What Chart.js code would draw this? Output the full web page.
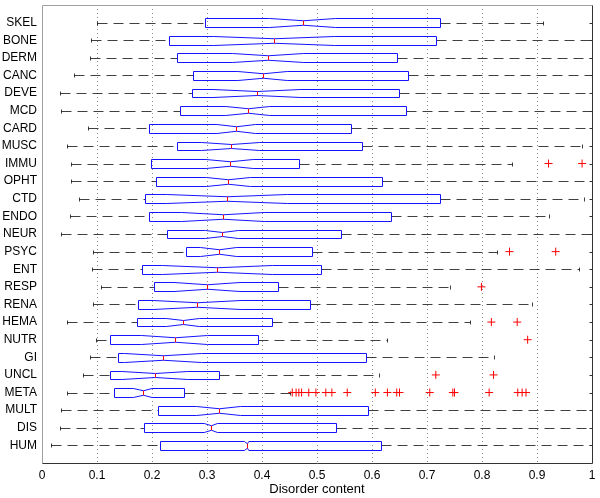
<!DOCTYPE html>
<html>
<head>
<meta charset="utf-8">
<script src="https://cdn.jsdelivr.net/npm/chart.js@4.4.0/dist/chart.umd.min.js"></script>
<style>
  body { margin: 0; background: #fff; }
  #wrap { width: 600px; height: 498px; }
</style>
</head>
<body>
<div id="wrap"><canvas id="boxChart" width="600" height="498"></canvas></div>
<script>
// categories, top to bottom
const cats = ['SKEL','BONE','DERM','CANC','DEVE','MCD','CARD','MUSC','IMMU','OPHT','CTD','ENDO','NEUR',
  'PSYC','ENT','RESP','RENA','HEMA','NUTR','GI','UNCL','META','MULT','DIS','HUM'];

// box statistics
const whiskerLo = [0.100,0.089,0.088,0.058,0.032,0.034,0.083,0.045,0.053,0.053,0.068,0.050,0.034,
  0.092,0.090,0.107,0.092,0.045,0.099,0.087,0.074,0.045,0.034,0.032,0.016];
const q1 = [0.296,0.230,0.246,0.275,0.273,0.251,0.195,0.245,0.198,0.208,0.187,0.194,0.227,
  0.261,0.182,0.204,0.174,0.172,0.123,0.139,0.123,0.130,0.211,0.185,0.214];
const medians = [0.474,0.422,0.411,0.401,0.391,0.374,0.353,0.343,0.341,0.339,0.336,0.329,0.327,
  0.321,0.319,0.300,0.282,0.256,0.241,0.220,0.205,0.183,0.321,0.307,0.372];
const q3 = [0.723,0.716,0.645,0.666,0.649,0.661,0.561,0.581,0.467,0.619,0.723,0.634,0.543,
  0.490,0.508,0.429,0.487,0.418,0.393,0.589,0.321,0.259,0.592,0.535,0.616];
const whiskerHi = [0.910,1,1,1,1,1,1,0.982,0.855,1,0.985,0.921,1,
  0.828,0.976,0.742,0.890,0.779,0.628,0.822,0.612,0.450,1,1,1];
// half width of the notch around the median
const notch = [0.06,0.11,0.065,0.045,0.08,0.04,0.035,0.053,0.043,0.04,0.11,0.075,0.03,
  0.033,0.10,0.06,0.08,0.03,0.06,0.07,0.06,0.017,0.04,0.012,0.004];

// outliers per category
const outliers = {
  IMMU: [0.921, 0.982],
  PSYC: [0.850, 0.934],
  RESP: [0.799],
  HEMA: [0.817, 0.864],
  NUTR: [0.883],
  UNCL: [0.716, 0.821],
  META: [0.455,0.462,0.467,0.472,0.485,0.498,0.516,0.527,0.555,0.606,0.628,0.645,0.650,
    0.705,0.747,0.750,0.813,0.865,0.873,0.880]
};

const xTicks = [0,0.1,0.2,0.3,0.4,0.5,0.6,0.7,0.8,0.9,1];

const outlierPoints = [];
Object.keys(outliers).forEach(c => {
  outliers[c].forEach(v => outlierPoints.push({x: v, y: cats.indexOf(c) + 1}));
});

const FONT = '"Liberation Sans", Arial, Helvetica, sans-serif';
const px = v => Math.round(v) + 0.5;

// boxes, notches, medians and whiskers drawn through the chart scales
const boxPlugin = {
  id: 'boxes',
  beforeDatasetsDraw(chart) {
    const {ctx, scales: {x, y}} = chart;
    const half = 0.25;
    ctx.save();
    ctx.lineWidth = 1;
    cats.forEach((c, i) => {
      const yc = px(y.getPixelForValue(i + 1));
      const yt = px(y.getPixelForValue(i + 1 - half));
      const yb = px(y.getPixelForValue(i + 1 + half));
      const h = yb - yt;
      const xl = px(x.getPixelForValue(whiskerLo[i]));
      const xh = px(x.getPixelForValue(whiskerHi[i]));
      const a = px(x.getPixelForValue(q1[i]));
      const b = px(x.getPixelForValue(q3[i]));
      const m = px(x.getPixelForValue(medians[i]));
      const nl = x.getPixelForValue(medians[i] - notch[i]);
      const nh = x.getPixelForValue(medians[i] + notch[i]);

      // whiskers
      ctx.strokeStyle = 'rgba(0,0,0,0.75)';
      ctx.setLineDash([10, 6]);
      ctx.beginPath();
      ctx.moveTo(xl, yc); ctx.lineTo(a, yc);
      ctx.moveTo(b, yc); ctx.lineTo(xh, yc);
      ctx.stroke();
      ctx.setLineDash([]);
      ctx.beginPath();
      ctx.moveTo(xl, yc - 2); ctx.lineTo(xl, yc + 2);
      ctx.moveTo(xh, yc - 2); ctx.lineTo(xh, yc + 2);
      ctx.stroke();

      // notched box
      ctx.strokeStyle = 'rgb(20,20,255)';
      ctx.beginPath();
      ctx.moveTo(a, yt);
      ctx.lineTo(nl, yt);
      ctx.lineTo(m, yt + h / 4);
      ctx.lineTo(nh, yt);
      ctx.lineTo(b, yt);
      ctx.lineTo(b, yb);
      ctx.lineTo(nh, yb);
      ctx.lineTo(m, yb - h / 4);
      ctx.lineTo(nl, yb);
      ctx.lineTo(a, yb);
      ctx.closePath();
      ctx.stroke();

      // median
      ctx.strokeStyle = 'rgb(255,0,0)';
      ctx.beginPath();
      ctx.moveTo(m, yt + h / 4); ctx.lineTo(m, yb - h / 4);
      ctx.stroke();
    });
    ctx.restore();
  },
  afterDraw(chart) {
    const {ctx, chartArea: ca, scales: {y}} = chart;
    const l = px(ca.left), r = px(ca.right), t = px(ca.top), btm = px(ca.bottom);
    ctx.save();
    ctx.lineWidth = 1;
    ctx.strokeStyle = '#a0a0a0';
    ctx.beginPath();
    ctx.moveTo(l, btm); ctx.lineTo(l, t); ctx.lineTo(r, t);
    ctx.stroke();
    ctx.strokeStyle = '#333';
    ctx.beginPath();
    ctx.moveTo(l, btm); ctx.lineTo(r, btm); ctx.lineTo(r, t);
    ctx.stroke();
    // small inner ticks on the right side
    ctx.beginPath();
    cats.forEach((c, i) => {
      const yy = px(y.getPixelForValue(i + 1));
      ctx.moveTo(r, yy); ctx.lineTo(r - 3, yy);
    });
    ctx.stroke();
    ctx.restore();
  }
};

const ctx = document.getElementById('boxChart').getContext('2d');
const boxChart = new Chart(ctx, {
  type: 'scatter',
  data: {
    datasets: [{
      label: 'outliers',
      data: outlierPoints,
      pointStyle: 'cross',
      radius: 4,
      borderColor: 'rgb(255,0,0)',
      borderWidth: 1,
      backgroundColor: 'rgb(255,0,0)'
    }]
  },
  options: {
    responsive: false,
    animation: false,
    devicePixelRatio: 1,
    layout: { padding: { top: 5, right: 8, left: 0, bottom: 0 } },
    plugins: { legend: { display: false }, tooltip: { enabled: false } },
    scales: {
      x: {
        type: 'linear',
        min: 0,
        max: 1,
        afterFit(scale) {
          scale.height = 35;
          scale.paddingLeft = 0;
          scale.paddingRight = 0;
        },
        afterBuildTicks(scale) { scale.ticks = xTicks.map(v => ({value: v})); },
        ticks: {
          padding: 5,
          color: '#000',
          font: { family: FONT, size: 12 },
          callback: v => String(Math.round(v * 10) / 10)
        },
        grid: {
          drawTicks: false,
          color: ctx => (ctx.tick && (ctx.tick.value === 0 || ctx.tick.value === 1)) ? 'rgba(0,0,0,0)' : 'rgba(0,0,0,0.45)',
          lineWidth: 1
        },
        border: { display: false, dash: [1, 3] },
        title: {
          display: true,
          text: 'Disorder content',
          color: '#000',
          font: { family: FONT, size: 13 },
          padding: { top: 0, bottom: 1 }
        }
      },
      y: {
        type: 'linear',
        min: 0,
        max: cats.length + 1,
        reverse: true,
        afterFit(scale) {
          scale.width = 42;
          scale.paddingTop = 0;
          scale.paddingBottom = 0;
        },
        afterBuildTicks(scale) { scale.ticks = cats.map((c, i) => ({value: i + 1})); },
        ticks: {
          padding: 5,
          color: '#000',
          font: { family: FONT, size: 12 },
          autoSkip: false,
          callback: v => cats[v - 1] || ''
        },
        grid: { display: false, drawTicks: false },
        border: { display: false }
      }
    }
  },
  plugins: [boxPlugin]
});
</script>
</body>
</html>
